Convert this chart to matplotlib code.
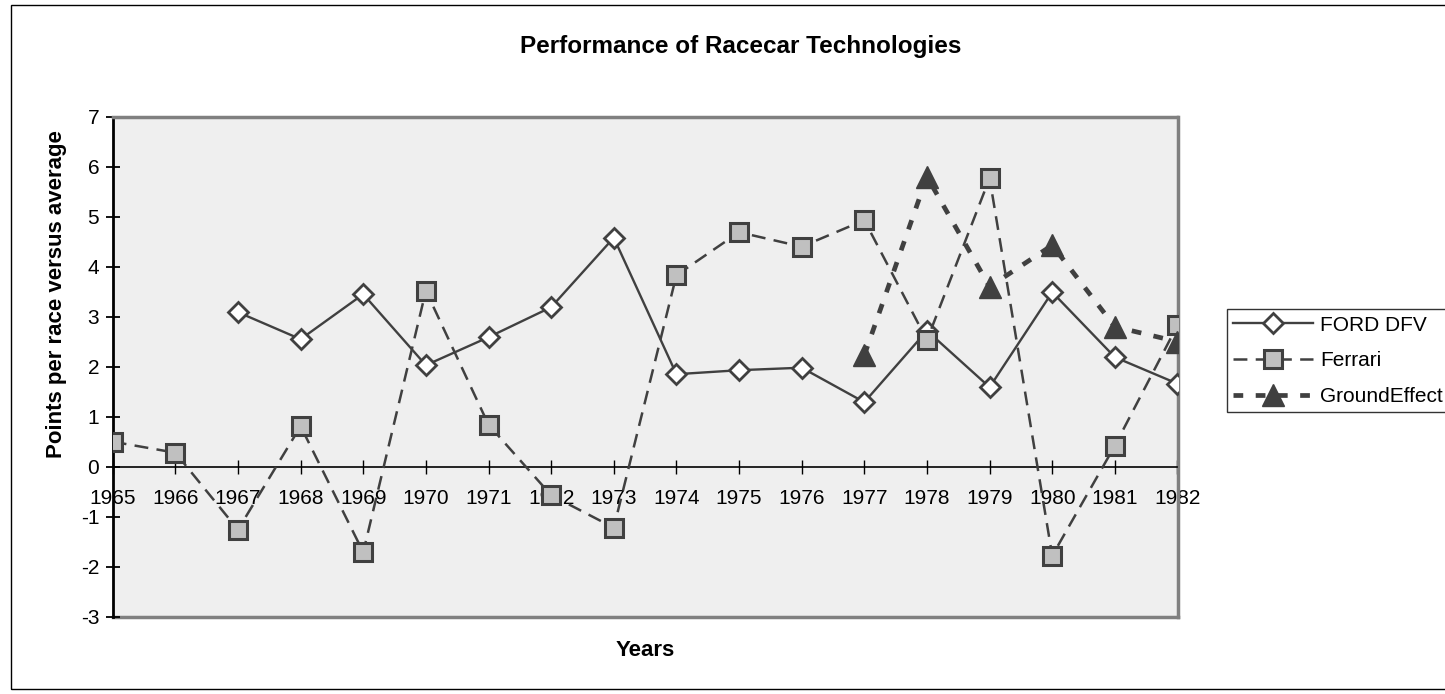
#!/usr/bin/env python
"""
Recreates the 'Performance of Racecar Technologies' line chart
(points per race versus average, 1965-1982).
"""

import matplotlib
matplotlib.use('Agg')
import matplotlib.pyplot as plt
from matplotlib.patches import Rectangle

# years on the category axis
years = list(range(1965, 1983))

# points per race versus average
ford_years = list(range(1967, 1983))
ford_dfv = [3.09, 2.55, 3.45, 2.03, 2.59, 3.19, 4.58, 1.85, 1.93, 1.98,
            1.29, 2.72, 1.59, 3.49, 2.19, 1.66]

ferrari_years = list(range(1965, 1983))
ferrari = [0.50, 0.28, -1.26, 0.81, -1.71, 3.52, 0.84, -0.57, -1.22, 3.83,
           4.69, 4.40, 4.93, 2.53, 5.77, -1.78, 0.42, 2.83]

ground_years = list(range(1977, 1983))
ground_effect = [2.23, 5.80, 3.60, 4.43, 2.80, 2.50]

yticks = list(range(-3, 8))

DARK = '#404040'
FONT = 'Liberation Sans'

plt.rcParams['font.family'] = [FONT, 'DejaVu Sans']
plt.rcParams['lines.scale_dashes'] = False
plt.rcParams['axes.unicode_minus'] = False

W, H = 1445, 694
fig = plt.figure(figsize=(W / 100, H / 100), dpi=100)

# outer chart border
fig.patches.append(Rectangle((11 / W, 1 - 689 / H), 1.0, 684 / H,
                             transform=fig.transFigure, fill=False,
                             edgecolor='black', linewidth=1.0))

left, right, top, bottom = 112.7, 1177.5, 116.7, 616.7
ax = fig.add_axes([left / W, 1 - bottom / H, (right - left) / W,
                   (bottom - top) / H])
ax.set_facecolor('#efefef')

ax.plot(ford_years, ford_dfv, color=DARK, linewidth=1.7, marker='D',
        markersize=10, markerfacecolor='white', markeredgecolor=DARK,
        markeredgewidth=2.0, label='FORD DFV', zorder=3)
ax.plot(ferrari_years, ferrari, color=DARK, linewidth=1.8,
        dashes=(10, 6), marker='s', markersize=13.5,
        markerfacecolor='#c0c0c0', markeredgecolor=DARK,
        markeredgewidth=2.2, label='Ferrari', zorder=4)
ax.plot(ground_years, ground_effect, color=DARK, linewidth=3.4,
        dashes=(7, 9), marker='^', markersize=15.5,
        markerfacecolor=DARK, markeredgecolor=DARK,
        label='GroundEffect', zorder=5)

ax.set_xlim(years[0], years[-1])
ax.set_ylim(-3, 7)
ax.set_xticks(years)
ax.set_xticklabels([str(y) for y in years])
ax.set_yticks(yticks)

# category axis crosses at zero, like the original
ax.spines['bottom'].set_position(('data', 0))
ax.spines['bottom'].set_linewidth(1.2)
ax.spines['bottom'].set_color('black')
ax.spines['left'].set_linewidth(2.0)
ax.spines['left'].set_color('black')
for side in ['top', 'right']:
    ax.spines[side].set_color('#808080')
    ax.spines[side].set_linewidth(2.5)
ax.plot([0, 1], [0, 0], transform=ax.transAxes, color='#808080',
        linewidth=2.5, clip_on=False, zorder=1)

ax.tick_params(axis='x', direction='inout', length=10, width=1.0,
               labelsize=15, pad=11)
ax.tick_params(axis='y', direction='inout', length=9.5, width=1.3,
               labelsize=15, pad=5)

fig.text(741 / W, 1 - 47 / H, 'Performance of Racecar Technologies',
         ha='center', va='center', fontsize=17.5, fontweight='bold')
fig.text(645 / W, 1 - 651 / H, 'Years', ha='center', va='center',
         fontsize=16, fontweight='bold')
fig.text(57 / W, 1 - 294 / H, 'Points per race versus average',
         ha='center', va='center', rotation=90, fontsize=16,
         fontweight='bold')

leg = fig.legend(loc='upper left', bbox_to_anchor=(1226.7 / W, 1 - 309.3 / H),
                 fontsize=15, handlelength=3.85, handletextpad=0.35,
                 borderpad=0.3, labelspacing=0.8, borderaxespad=0,
                 fancybox=False, frameon=True)
leg.get_frame().set_edgecolor('black')
leg.get_frame().set_linewidth(1.0)

fig.savefig('out.png', dpi=100)
